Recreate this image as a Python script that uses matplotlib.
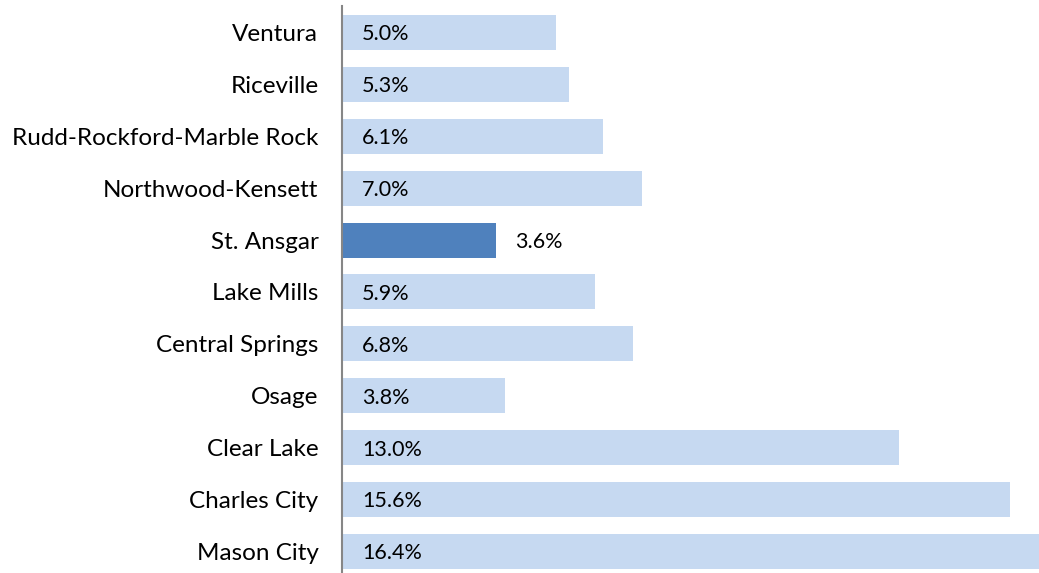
import matplotlib
matplotlib.use("Agg")
import matplotlib.pyplot as plt

categories = ["Ventura", "Riceville", "Rudd-Rockford-Marble Rock", "Northwood-Kensett",
              "St. Ansgar", "Lake Mills", "Central Springs", "Osage", "Clear Lake",
              "Charles City", "Mason City"]
values = [5.0, 5.3, 6.1, 7.0, 3.6, 5.9, 6.8, 3.8, 13.0, 15.6, 16.4]
highlight = "St. Ansgar"

plt.rcParams['font.family'] = ['Lato', 'DejaVu Sans']

W, H = 1039, 573
fig = plt.figure(figsize=(W / 100, H / 100), dpi=100)
ax = fig.add_axes([342 / W, 0, 1 - 342 / W, (573 - 6) / H])

light = "#C6D9F1"
dark = "#4F81BD"
pos = list(range(len(categories)))
colors = [dark if c == highlight else light for c in categories]
ax.barh(pos, values, height=0.674, color=colors, edgecolor="none")

ax.set_xlim(0, 16.28)
ax.set_ylim(10 + 0.414, -0.51)

for p, v, c in zip(pos, values, categories):
    if c == highlight:
        ax.annotate(f"{v:.1f}%", xy=(v, p), xytext=(13.7, -1.3), textcoords="offset points",
                    va="center", ha="left", fontsize=15.5, color="black")
    else:
        ax.annotate(f"{v:.1f}%", xy=(0, p), xytext=(14.5, -1.3), textcoords="offset points",
                    va="center", ha="left", fontsize=15.5, color="black")

ax.set_yticks(pos)
ax.set_yticklabels(categories, fontsize=17.5)
ax.tick_params(axis="y", length=0, pad=17)
ax.set_xticks([])
for s in ["top", "right", "bottom"]:
    ax.spines[s].set_visible(False)
ax.spines["left"].set_color("#868686")
ax.spines["left"].set_linewidth(1.5)

fig.savefig("out.png", dpi=100)
